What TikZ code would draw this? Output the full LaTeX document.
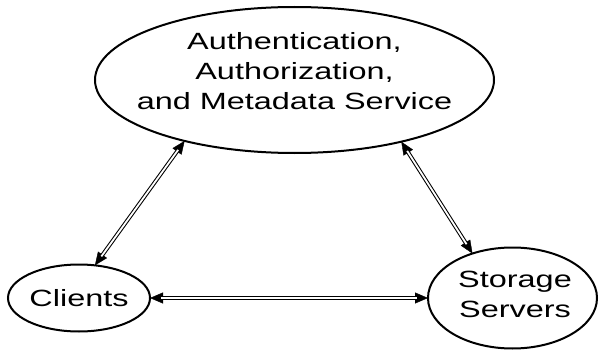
\documentclass[tikz,border=0pt]{standalone}
\usepackage{fontspec}
\setmainfont[FakeStretch=1.38]{Liberation Sans}
\usetikzlibrary{shapes.geometric,arrows.meta}

\tikzset{
  oval/.style={ellipse, draw, line width=2pt, inner sep=0pt, outer sep=0pt},
  lbl/.style={inner sep=0pt, outer sep=0pt, align=center,
              font=\fontsize{23.5}{30}\selectfont},
  % heads: a thin line carrying both tips, drawn first
  linkheads/.style={line width=0.4pt,
               {Triangle[length=13pt,width=11pt]}-{Triangle[length=13pt,width=11pt]}},
  % shaft: a double line laid over it, stopping at the heads
  linkshaft/.style={double, double distance=1.8pt, line width=1.05pt,
               shorten <=11pt, shorten >=11pt}
}

\begin{document}
\begin{tikzpicture}[x=1pt, y=-1pt]
  \useasboundingbox (0,0) rectangle (600,353);

  % service ellipse at the top
  \node[oval, minimum width=399pt, minimum height=146pt] (auth) at (294.5,80) {};
  \node[lbl] (authtext) at (294.5,71.6) {Authentication,\\Authorization,\\and Metadata Service};

  % clients
  \node[oval, minimum width=142pt, minimum height=67pt, lbl] (clients) at (79,298) {Clients};

  % storage servers
  \node[oval, minimum width=169pt, minimum height=101pt] (storage) at (512.5,298) {};
  \node[lbl] (storagetext) at (515,294.3) {Storage\\Servers};

  % two-way links
  \draw[linkheads] (auth.209.6) -- (clients.64.9);
  \draw[linkshaft] (auth.209.6) -- (clients.64.9);
  \draw[linkheads] (auth.330.2) -- (storage.132.3);
  \draw[linkshaft] (auth.330.2) -- (storage.132.3);
  \draw[linkheads] (clients.east) -- (storage.west);
  \draw[linkshaft] (clients.east) -- (storage.west);
\end{tikzpicture}
\end{document}
